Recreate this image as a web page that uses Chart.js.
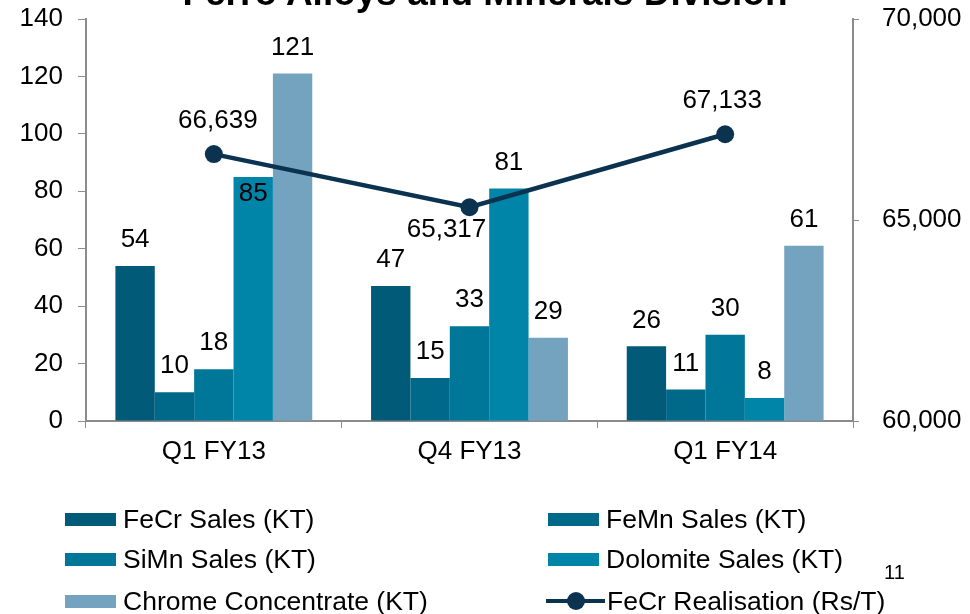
<!DOCTYPE html>
<html>
<head>
<meta charset="utf-8">
<script src="https://cdn.jsdelivr.net/npm/chart.js@4"></script>
<style>
  body { margin: 0; background: #fff; overflow: hidden; font-family: "Liberation Sans", Arial, sans-serif; }
  #wrap { position: relative; width: 970px; height: 614px; overflow: hidden; }
  #title { position: absolute; left: 0; width: 970px; top: -26px; text-align: center; font-weight: bold; font-size: 37px; line-height: 37px; color: #000; }
  #legend { position: absolute; left: 0; top: 0; width: 970px; height: 614px; pointer-events: none; }
  .item { position: absolute; height: 30px; display: flex; align-items: center; font-size: 26.5px; color: #000; white-space: nowrap; }
  .box { width: 51px; height: 13px; margin-right: 7px; }
  .lineKey { position: relative; width: 59px; height: 20px; margin-right: 2px; }
  .lineKey .bar { position: absolute; left: 0; right: 0; top: 8px; height: 4px; }
  .lineKey .dot { position: absolute; left: 21px; top: 1px; width: 18px; height: 18px; border-radius: 50%; }
  #page { position: absolute; left: 884px; top: 561px; font-size: 20px; color: #000; }
</style>
</head>
<body>
<div id="wrap">
  <canvas id="chart" width="970" height="614"></canvas>
  <div id="title">Ferro Alloys and Minerals Division</div>
  <div id="legend"></div>
  <div id="page">11</div>
</div>
<script>
// --- Data ---
const categories = ['Q1 FY13', 'Q4 FY13', 'Q1 FY14'];
const fecrSales = [54, 47, 26];
const femnSales = [10, 15, 11];
const simnSales = [18, 33, 30];
const dolomiteSales = [85, 81, 8];
const chromeConc = [121, 29, 61];
const fecrRealisation = [66639, 65317, 67133];
const leftTicks = [0, 20, 40, 60, 80, 100, 120, 140];
const rightTicks = [60000, 65000, 70000];

// --- Styling / label placement ---
const barColors = ['#005a78', '#00698a', '#007699', '#0085a9', '#74a3bf'];
const lineColor = '#0b3350';
const insideLabels = [[3, 0]];                       // [dataset, index] labels drawn inside bar top
const lineLabelOffsets = [[4, -33], [-23, 23], [-3, -33]];
const FONT = '"Liberation Sans", Arial, sans-serif';

const barSeries = [
  ['FeCr Sales (KT)', fecrSales],
  ['FeMn Sales (KT)', femnSales],
  ['SiMn Sales (KT)', simnSales],
  ['Dolomite Sales (KT)', dolomiteSales],
  ['Chrome Concentrate (KT)', chromeConc]
];

const datasets = barSeries.map(([label, data], i) => ({
  type: 'bar',
  label,
  data,
  backgroundColor: barColors[i],
  borderWidth: 0,
  yAxisID: 'y',
  order: 1,
  barPercentage: 1.0,
  categoryPercentage: 0.77
}));

datasets.push({
  type: 'line',
  label: 'FeCr Realisation (Rs/T)',
  data: fecrRealisation,
  borderColor: lineColor,
  backgroundColor: lineColor,
  borderWidth: 4.5,
  pointRadius: 9,
  pointBackgroundColor: lineColor,
  pointBorderWidth: 0,
  tension: 0,
  yAxisID: 'y2',
  order: 0
});

// --- Value labels plugin ---
const valueLabels = {
  id: 'valueLabels',
  afterDatasetsDraw(chart) {
    const ctx = chart.ctx;
    ctx.save();
    ctx.font = '26px ' + FONT;
    ctx.fillStyle = '#000';
    ctx.textAlign = 'center';
    ctx.textBaseline = 'middle';
    chart.data.datasets.forEach((ds, di) => {
      const meta = chart.getDatasetMeta(di);
      meta.data.forEach((el, i) => {
        const v = ds.data[i];
        if (ds.type === 'line') {
          const off = lineLabelOffsets[i];
          ctx.fillText(v.toLocaleString('en-US'), el.x + off[0], el.y + off[1]);
        } else {
          const inside = insideLabels.some(p => p[0] === di && p[1] === i);
          ctx.fillText(String(v), el.x, inside ? el.y + 17 : el.y - 26);
        }
      });
    });
    ctx.restore();
  }
};

const fitY = w => s => { s.width = w; s.paddingTop = 0; s.paddingBottom = 0; };

const chart = new Chart(document.getElementById('chart').getContext('2d'), {
  data: { labels: categories, datasets },
  options: {
    responsive: false,
    animation: false,
    layout: { padding: { top: 19, left: 0, right: 0, bottom: 0 } },
    plugins: {
      legend: { display: false },
      tooltip: { enabled: false }
    },
    scales: {
      x: {
        grid: { drawOnChartArea: false, drawTicks: true, tickLength: 7, color: '#8c8c8c', offset: true },
        border: { color: '#8c8c8c', width: 2 },
        ticks: { font: { size: 26, family: FONT }, color: '#000', padding: 8 },
        afterFit: s => { s.height = 193; s.paddingLeft = 0; s.paddingRight = 0; }
      },
      y: {
        position: 'left',
        min: 0, max: 140,
        afterBuildTicks: s => { s.ticks = leftTicks.map(v => ({ value: v })); },
        grid: { drawOnChartArea: false, tickLength: 8, color: '#8c8c8c' },
        border: { color: '#8c8c8c', width: 2 },
        ticks: { font: { size: 26, family: FONT }, color: '#000', padding: 15 },
        afterFit: fitY(86)
      },
      y2: {
        position: 'right',
        min: 60000, max: 70000,
        afterBuildTicks: s => { s.ticks = rightTicks.map(v => ({ value: v })); },
        grid: { drawOnChartArea: false, tickLength: 6, color: '#8c8c8c' },
        border: { color: '#8c8c8c', width: 2 },
        ticks: {
          font: { size: 26, family: FONT }, color: '#000', padding: 23,
          callback: v => Number(v).toLocaleString('en-US')
        },
        afterFit: fitY(117)
      }
    }
  },
  plugins: [valueLabels]
});

// --- HTML legend built from the chart's datasets ---
const legendPos = [[65, 519], [548, 519], [65, 559], [548, 559], [65, 601], [546, 601]];
const legendEl = document.getElementById('legend');
chart.data.datasets.forEach((ds, i) => {
  const item = document.createElement('div');
  item.className = 'item';
  item.style.left = legendPos[i][0] + 'px';
  item.style.top = (legendPos[i][1] - 15) + 'px';
  let key;
  if (ds.type === 'line') {
    key = document.createElement('div');
    key.className = 'lineKey';
    key.innerHTML = '<div class="bar" style="background:' + ds.borderColor + '"></div>' +
                    '<div class="dot" style="background:' + ds.borderColor + '"></div>';
  } else {
    key = document.createElement('div');
    key.className = 'box';
    key.style.background = ds.backgroundColor;
  }
  item.appendChild(key);
  const txt = document.createElement('span');
  txt.textContent = ds.label;
  item.appendChild(txt);
  legendEl.appendChild(item);
});
</script>
</body>
</html>
